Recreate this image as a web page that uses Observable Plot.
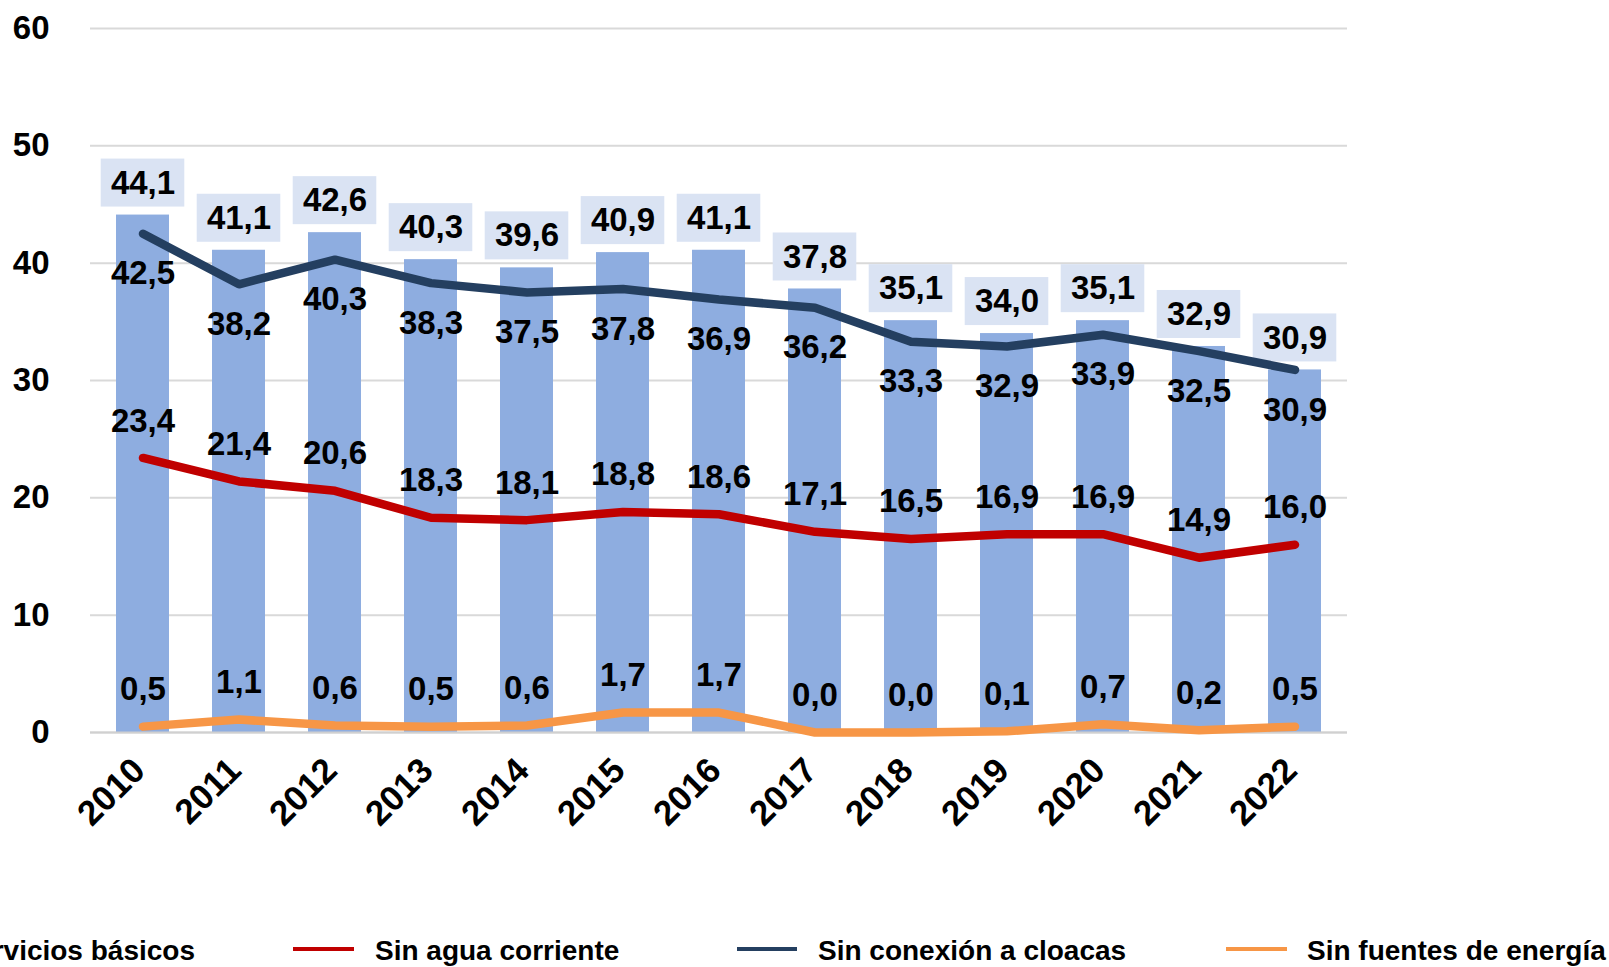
<!DOCTYPE html>
<html><head><meta charset="utf-8">
<script src="https://cdn.jsdelivr.net/npm/d3@7"></script>
<script src="https://cdn.jsdelivr.net/npm/@observablehq/plot@0.6"></script>
<style>
body{margin:0;background:#fff;font-family:"Liberation Sans",Arial,sans-serif;}
#wrap{position:relative;width:1609px;height:967px;overflow:hidden;}
.leg{position:absolute;font-weight:bold;font-size:28px;color:#000;white-space:nowrap;line-height:30px;height:30px;}
.sw{position:absolute;height:4px;}
</style></head><body><div id="wrap"></div>
<script>
const years = ["2010","2011","2012","2013","2014","2015","2016","2017","2018","2019","2020","2021","2022"];
const sinServicios = [44.1, 41.1, 42.6, 40.3, 39.6, 40.9, 41.1, 37.8, 35.1, 34.0, 35.1, 32.9, 30.9];
const sinCloacas = [42.5, 38.2, 40.3, 38.3, 37.5, 37.8, 36.9, 36.2, 33.3, 32.9, 33.9, 32.5, 30.9];
const sinAgua = [23.4, 21.4, 20.6, 18.3, 18.1, 18.8, 18.6, 17.1, 16.5, 16.9, 16.9, 14.9, 16.0];
const sinEnergia = [0.5, 1.1, 0.6, 0.5, 0.6, 1.7, 1.7, 0.0, 0.0, 0.1, 0.7, 0.2, 0.5];
const yTicks = [0, 10, 20, 30, 40, 50, 60];
const seriesNames = ["Sin servicios básicos", "Sin agua corriente", "Sin conexión a cloacas", "Sin fuentes de energía"];

const C_BAR = "#8EADE0", C_BOX = "#DAE3F3", C_NAVY = "#243F60", C_RED = "#C00000", C_ORANGE = "#F79646";
const fmt = v => v.toFixed(1).replace(".", ",");
const table = years.map((year, i) => ({year, total: sinServicios[i], cloacas: sinCloacas[i], agua: sinAgua[i], energia: sinEnergia[i]}));

const lineOpts = {x: "year", strokeWidth: 8.5, strokeLinecap: "round", strokeLinejoin: "round"};
const txt = {fontSize: 33, fontWeight: "bold", fill: "#000", lineAnchor: "middle"};

const chart = Plot.plot({
  width: 1609, height: 900,
  marginLeft: 90, marginRight: 262, marginTop: 28, marginBottom: 168,
  style: {fontFamily: "'Liberation Sans', Arial, sans-serif", color: "#000", background: "#fff", overflow: "visible"},
  x: {type: "band", domain: years, paddingInner: 0.45, paddingOuter: 0.225, label: null},
  y: {domain: [0, 60], label: null},
  marks: [
    Plot.gridY(yTicks, {stroke: "#d9d9d9", strokeOpacity: 1, strokeWidth: 2}),
    Plot.barY(table, {x: "year", y: "total", fill: C_BAR}),
    Plot.ruleY([0], {stroke: "#d0d0d0", strokeWidth: 2}),
    Plot.barY(table, {x: "year", y1: "total", y2: "total", fill: C_BOX, insetTop: -56, insetBottom: 8, insetLeft: -15.3, insetRight: -15.3}),
    Plot.line(table, {...lineOpts, y: "energia", stroke: C_ORANGE}),
    Plot.line(table, {...lineOpts, y: "agua", stroke: C_RED}),
    Plot.line(table, {...lineOpts, y: "cloacas", stroke: C_NAVY}),
    Plot.text(table, {...txt, x: "year", y: "total", text: d => fmt(d.total), dy: -32}),
    Plot.text(table, {...txt, x: "year", y: "cloacas", text: d => fmt(d.cloacas), dy: 40}),
    Plot.text(table, {...txt, x: "year", y: "agua", text: d => fmt(d.agua), dy: -37}),
    Plot.text(table, {...txt, x: "year", y: "energia", text: d => fmt(d.energia), dy: -37}),
    Plot.axisY(yTicks, {tickSize: 0, tickPadding: 41, fontSize: 33, fontWeight: "bold", label: null}),
    Plot.axisX({tickSize: 0, tickPadding: 32, dx: -4, tickRotate: -45, fontSize: 35, fontWeight: "bold", label: null})
  ]
});
const wrap = document.getElementById("wrap");
wrap.appendChild(chart);

// legend
const legendItems = [
  {name: seriesNames[0], kind: "box", color: C_BAR, textRight: 195},
  {name: seriesNames[1], kind: "line", color: C_RED, sw: [293, 354], textLeft: 375},
  {name: seriesNames[2], kind: "line", color: C_NAVY, sw: [737, 797], textLeft: 818},
  {name: seriesNames[3], kind: "line", color: C_ORANGE, sw: [1226, 1287], textLeft: 1307}
];
for (const it of legendItems) {
  const t = document.createElement("div");
  t.className = "leg";
  t.textContent = it.name;
  t.style.top = "936px";
  if (it.textRight != null) t.style.right = (1609 - it.textRight) + "px";
  else t.style.left = it.textLeft + "px";
  wrap.appendChild(t);
  if (it.kind === "line") {
    const s = document.createElement("div");
    s.className = "sw";
    s.style.left = it.sw[0] + "px";
    s.style.width = (it.sw[1] - it.sw[0]) + "px";
    s.style.top = "947px";
    s.style.background = it.color;
    wrap.appendChild(s);
  }
}
</script>
</body></html>
